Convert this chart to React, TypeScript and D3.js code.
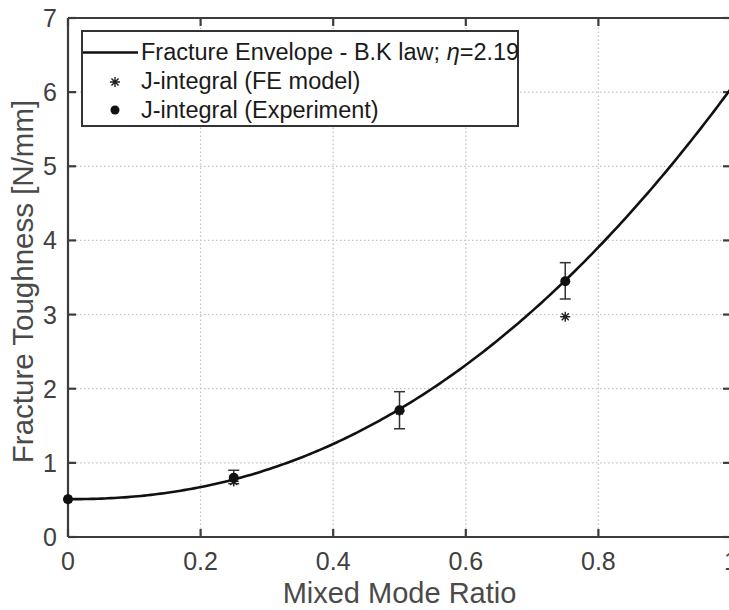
import React from "react";
import * as d3 from "d3";

// Mixed-mode ratio of each test configuration
const modeRatios = [0, 0.25, 0.5, 0.75];
// Fracture toughness from the J-integral, experiments (mean) [N/mm]
const experimentJ = [0.51, 0.8, 1.71, 3.45];
// Scatter bounds of the experiments [N/mm]
const experimentLow = [0.51, 0.72, 1.46, 3.21];
const experimentHigh = [0.51, 0.9, 1.96, 3.7];
// Fracture toughness from the J-integral, FE model [N/mm]
const feJ = [0.51, 0.75, 1.7, 2.97];

// Benzeggagh-Kenane envelope parameters
const gIc = 0.51;
const gIIc = 6.05;
const eta = 2.19;

const xTicks = [0, 0.2, 0.4, 0.6, 0.8, 1];
const yTicks = [0, 1, 2, 3, 4, 5, 6, 7];

const legendLabels = [
  "Fracture Envelope - B.K law; ",
  "J-integral (FE model)",
  "J-integral (Experiment)",
];

const W = 729;
const H = 610;
const FONT = "'Liberation Sans', Arial, Helvetica, sans-serif";
const AXIS = "#3c3c3c";

export default function App() {
  const x = d3.scaleLinear().domain([0, 1]).range([68, 731]);
  const y = d3.scaleLinear().domain([0, 7]).range([537, 18]);

  const bk = (b: number) => gIc + (gIIc - gIc) * Math.pow(b, eta);
  const samples = d3.range(0, 1.0001, 0.005);
  const curve = d3
    .line<number>()
    .x((b) => x(b))
    .y((b) => y(bk(b)))(samples) as string;

  const star = (cx: number, cy: number, r: number, key: string) => {
    const segs = [0, 45, 90, 135].map((a) => {
      const rad = (a * Math.PI) / 180;
      const dx = Math.cos(rad) * r;
      const dy = Math.sin(rad) * r;
      return `M${cx - dx},${cy - dy}L${cx + dx},${cy + dy}`;
    });
    return (
      <path key={key} d={segs.join("")} stroke="#222" strokeWidth={1.4} fill="none" />
    );
  };

  const [x0, x1] = x.range();
  const [yb, yt] = y.range();

  return (
    <svg
      width={W}
      height={H}
      style={{ position: "absolute", left: 0, top: 0, background: "#fff" }}
      fontFamily={FONT}
    >
      <rect x={0} y={0} width={W} height={H} fill="#fff" />
      {/* grid */}
      <g stroke="#c4c4c4" strokeWidth={1.3} strokeDasharray="1.5,2.5">
        {xTicks
          .filter((t) => t > 0 && t < 1)
          .map((t) => (
            <line key={"gx" + t} x1={x(t)} x2={x(t)} y1={yb} y2={yt} />
          ))}
        {yTicks
          .filter((t) => t > 0 && t < 7)
          .map((t) => (
            <line key={"gy" + t} x1={x0} x2={x1} y1={y(t)} y2={y(t)} />
          ))}
      </g>

      {/* axes frame */}
      <g stroke={AXIS} strokeWidth={2.2} fill="none">
        <line x1={x0} x2={x1} y1={yb} y2={yb} />
        <line x1={x0} x2={x1} y1={yt} y2={yt} />
        <line x1={x0} x2={x0} y1={yb} y2={yt} />
        <line x1={x1} x2={x1} y1={yb} y2={yt} />
        {xTicks.map((t) => (
          <g key={"tx" + t}>
            <line x1={x(t)} x2={x(t)} y1={yb} y2={yb - 8} />
            <line x1={x(t)} x2={x(t)} y1={yt} y2={yt + 8} />
          </g>
        ))}
        {yTicks.map((t) => (
          <g key={"ty" + t}>
            <line x1={x0} x2={x0 + 8} y1={y(t)} y2={y(t)} />
            <line x1={x1} x2={x1 - 8} y1={y(t)} y2={y(t)} />
          </g>
        ))}
      </g>

      {/* tick labels */}
      <g fill="#404040" fontSize={25}>
        {xTicks.map((t) => (
          <text key={"lx" + t} x={x(t)} y={570} textAnchor="middle">
            {String(t)}
          </text>
        ))}
        {yTicks.map((t) => (
          <text key={"ly" + t} x={57} y={y(t) + 9} textAnchor="end">
            {String(t)}
          </text>
        ))}
      </g>

      {/* axis titles */}
      <text
        x={(x0 + x1) / 2}
        y={603}
        textAnchor="middle"
        fontSize={29}
        fill="#4a4a4a"
      >
        Mixed Mode Ratio
      </text>
      <text
        transform={`translate(33,${(yb + yt) / 2 + 4}) rotate(-90)`}
        textAnchor="middle"
        fontSize={29.5}
        fill="#4a4a4a"
      >
        Fracture Toughness [N/mm]
      </text>

      {/* B-K envelope */}
      <path d={curve} fill="none" stroke="#111" strokeWidth={2.6} />

      {/* error bars */}
      <g stroke="#333" strokeWidth={1.5}>
        {modeRatios.map((m, i) =>
          experimentHigh[i] - experimentLow[i] > 0.01 ? (
            <g key={"eb" + i}>
              <line x1={x(m)} x2={x(m)} y1={y(experimentLow[i])} y2={y(experimentHigh[i])} />
              <line x1={x(m) - 5.5} x2={x(m) + 5.5} y1={y(experimentLow[i])} y2={y(experimentLow[i])} />
              <line x1={x(m) - 5.5} x2={x(m) + 5.5} y1={y(experimentHigh[i])} y2={y(experimentHigh[i])} />
            </g>
          ) : null
        )}
      </g>

      {/* FE model points */}
      {modeRatios.map((m, i) => star(x(m), y(feJ[i]), 5, "fe" + i))}

      {/* experimental points */}
      {modeRatios.map((m, i) => (
        <circle key={"ex" + i} cx={x(m)} cy={y(experimentJ[i])} r={5} fill="#111" />
      ))}

      {/* legend */}
      <g>
        <rect x={82} y={31} width={436} height={95} fill="#fff" stroke="#333" strokeWidth={2} />
        <line x1={83} x2={138} y1={52.5} y2={52.5} stroke="#111" strokeWidth={2.6} />
        {star(115, 82, 5, "legstar")}
        <circle cx={115} cy={110} r={4.5} fill="#111" />
        <g fill="#1a1a1a" fontSize={23.5}>
          <text x={141} y={60}>
            {legendLabels[0]}
            <tspan fontStyle="italic">η</tspan>
            {"=" + eta.toFixed(2)}
          </text>
          <text x={141} y={89}>
            {legendLabels[1]}
          </text>
          <text x={141} y={117.5}>
            {legendLabels[2]}
          </text>
        </g>
      </g>
    </svg>
  );
}
